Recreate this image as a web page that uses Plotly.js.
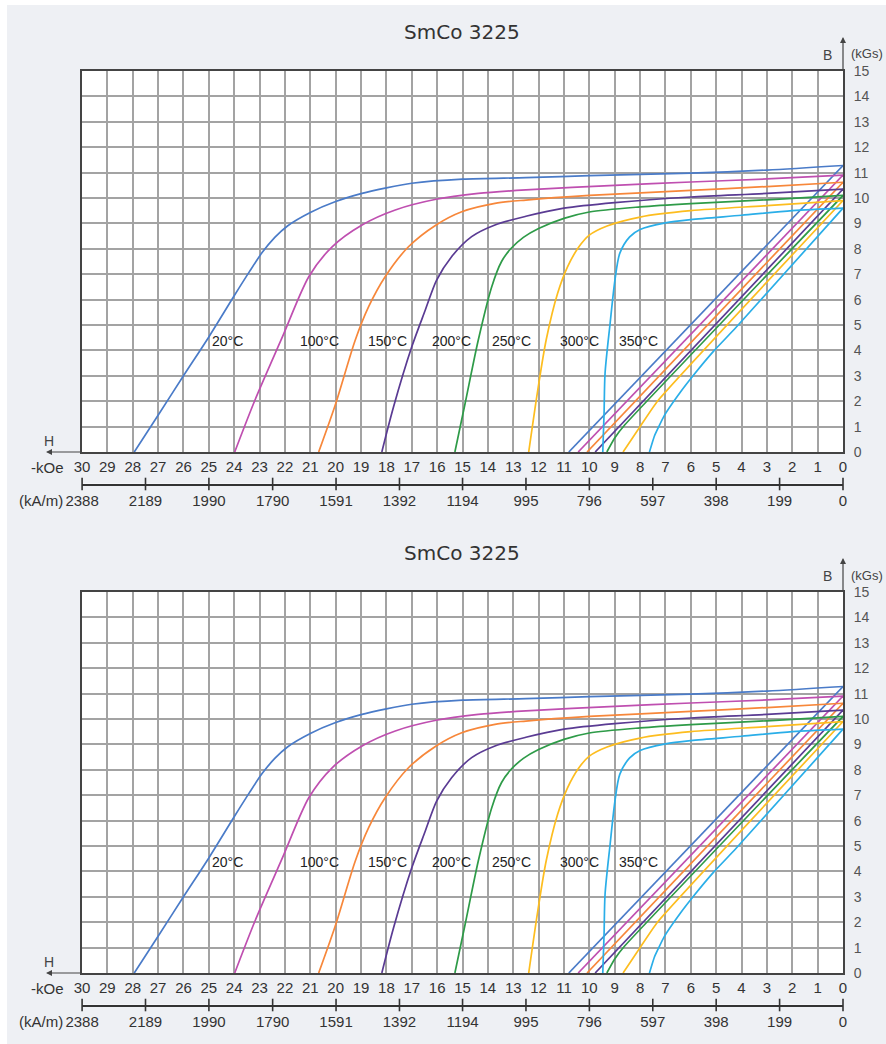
<!DOCTYPE html>
<html><head><meta charset="utf-8">
<script src="https://cdn.plot.ly/plotly-3.0.1.min.js"></script>
<style>html,body{margin:0;padding:0;background:#fff;}#chart{width:886px;height:1044px;}</style>
</head><body><div id="chart"></div>
<script>
// ---------- data ----------
const chartTitle = 'SmCo 3225';
const temps = ['20°C', '100°C', '150°C', '200°C', '250°C', '300°C', '350°C'];
const colors = ['#4a7bc8', '#bf4fb0', '#f7873a', '#5a3b93', '#2e9b48', '#fdbd1f', '#2aaee8'];

// intrinsic (curved) demagnetization curves: H in kOe (magnitude), B in kGs
const intrH20  = [27.94, 27.0, 26.0, 25.0, 24.0, 23.4, 22.9, 22.4, 21.9, 21.0, 20.0, 19.0, 18.0, 17.0, 15.0, 12.5, 10.0, 6.0, 3.0, 0];
const intrB20  = [0, 1.45, 3.0, 4.53, 6.15, 7.1, 7.85, 8.45, 8.9, 9.43, 9.86, 10.17, 10.4, 10.58, 10.74, 10.8, 10.88, 10.98, 11.1, 11.28];
const intrH100 = [23.98, 23.2, 22.1, 21.06, 20.14, 18.96, 17.65, 16.04, 14.38, 12.5, 9.0, 6.0, 3.0, 0];
const intrB100 = [0, 2.0, 4.53, 6.9, 8.08, 8.94, 9.53, 9.95, 10.18, 10.32, 10.5, 10.63, 10.75, 10.9];
const intrH150 = [20.67, 20.0, 19.23, 18.7, 18.05, 17.13, 16.04, 15.03, 13.72, 12.5, 10.0, 6.0, 3.0, 0];
const intrB150 = [0, 1.9, 4.4, 5.72, 6.9, 8.08, 8.94, 9.46, 9.79, 9.92, 10.1, 10.3, 10.45, 10.62];
const intrH200 = [18.18, 17.72, 17.0, 16.47, 16.02, 15.43, 14.64, 13.72, 12.5, 11.0, 9.0, 6.0, 3.0, 0];
const intrB200 = [0, 1.77, 4.14, 5.58, 6.77, 7.69, 8.48, 8.94, 9.28, 9.6, 9.82, 10.04, 10.18, 10.35];
const intrH250 = [15.3, 14.9, 14.38, 13.85, 13.46, 13.1, 12.6, 12.0, 11.0, 10.0, 8.0, 6.0, 3.0, 0];
const intrB250 = [0, 1.9, 4.4, 6.5, 7.5, 8.0, 8.45, 8.8, 9.2, 9.45, 9.65, 9.78, 9.93, 10.1];
const intrH300 = [12.39, 12.03, 11.7, 11.25, 10.86, 10.41, 10.0, 9.3, 8.0, 6.0, 3.0, 0];
const intrB300 = [0, 2.46, 4.42, 6.25, 7.29, 8.08, 8.54, 8.9, 9.25, 9.5, 9.7, 9.9];
const intrH350 = [9.47, 9.42, 9.38, 9.18, 8.99, 8.8, 8.41, 8.0, 7.0, 6.0, 4.0, 2.0, 0];
const intrB350 = [0, 1.5, 3.1, 5.07, 6.77, 7.82, 8.47, 8.76, 9.02, 9.15, 9.32, 9.5, 9.6];

// normal (straight) demagnetization lines
const normH20  = [10.81, 0];
const normB20  = [0, 11.28];
const normH100 = [10.44, 0];
const normB100 = [0, 10.9];
const normH150 = [10.09, 0];
const normB150 = [0, 10.62];
const normH200 = [9.77, 0];
const normB200 = [0, 10.35];
const normH250 = [9.31, 9.0, 8.6, 0];
const normB250 = [0, 0.55, 1.07, 10.1];
const normH300 = [8.67, 8.3, 8.0, 7.3, 0];
const normB300 = [0, 0.55, 1.0, 2.02, 9.9];
const normH350 = [7.63, 7.43, 7.04, 6.4, 5.88, 5.1, 4.22, 0];
const normB350 = [0, 0.64, 1.44, 2.37, 3.04, 3.97, 4.9, 9.6];

// axis ticks
const kOeTicks = [30,29,28,27,26,25,24,23,22,21,20,19,18,17,16,15,14,13,12,11,10,9,8,7,6,5,4,3,2,1,0];
const kAmTicks = [2388, 2189, 1990, 1790, 1591, 1392, 1194, 995, 796, 597, 398, 199, 0];
const bTicks = [0,1,2,3,4,5,6,7,8,9,10,11,12,13,14,15];

const intrH = [intrH20, intrH100, intrH150, intrH200, intrH250, intrH300, intrH350];
const intrB = [intrB20, intrB100, intrB150, intrB200, intrB250, intrB300, intrB350];
const normH = [normH20, normH100, normH150, normH200, normH250, normH300, normH350];
const normB = [normB20, normB100, normB150, normB200, normB250, normB300, normB350];
const labelH = [24.95, 21.5, 18.8, 16.3, 13.9, 11.25, 8.9]; // label anchor positions

// ---------- layout helpers ----------
const W = 886, HT = 1044;
const fx = px => px / W;
const fy = py => 1 - py / HT;
const PL = 82, PR = 843;
const panelOff = [0, 521];

const numFont = 'Liberation Sans, Arial, sans-serif';
const gridCol = '#a3a3a3';
const traces = [];
const layout = {
  width: W, height: HT,
  margin: {l: 0, r: 0, t: 0, b: 0},
  paper_bgcolor: '#eef0f4',
  plot_bgcolor: '#ffffff',
  showlegend: false,
  annotations: [],
  shapes: [
    {type: 'rect', xref: 'paper', yref: 'paper', x0: 0, x1: fx(7), y0: 0, y1: 1, fillcolor: '#ffffff', line: {width: 0}},
    {type: 'rect', xref: 'paper', yref: 'paper', x0: 0, x1: 1, y0: fy(5), y1: 1, fillcolor: '#ffffff', line: {width: 0}}
  ]
};

panelOff.forEach((off, p) => {
  const xn = p === 0 ? '' : '2';
  const kn = p === 0 ? '3' : '4';
  const xa = 'x' + xn, ya = 'y' + xn;

  layout['xaxis' + xn] = {
    domain: [fx(PL), fx(PR)], anchor: ya, range: [30, 0],
    tickmode: 'array', tickvals: kOeTicks, ticktext: kOeTicks.map(String),
    ticks: '', ticklabelstandoff: 0,
    tickfont: {family: numFont, size: 15, color: '#333'},
    showgrid: true, gridcolor: gridCol, gridwidth: 2,
    showline: true, linecolor: '#444', linewidth: 2, mirror: true,
    zeroline: false, fixedrange: true
  };
  layout['yaxis' + xn] = {
    domain: [fy(452 + off), fy(71 + off)], anchor: xa, side: 'right', range: [0, 15],
    tickmode: 'array', tickvals: bTicks, ticktext: bTicks.map(String),
    ticks: '', ticklabelstandoff: 6,
    tickfont: {family: numFont, size: 14, color: '#555'},
    showgrid: true, gridcolor: gridCol, gridwidth: 2,
    showline: true, linecolor: '#444', linewidth: 2, mirror: true,
    zeroline: false, fixedrange: true
  };
  // kA/m scale
  const lineY = 484 + off;
  layout['xaxis' + kn] = {
    domain: [fx(PL), fx(PR)], anchor: 'y' + kn, range: [2388.3, 0],
    tickmode: 'array', tickvals: kAmTicks, ticktext: kAmTicks.map(String),
    ticks: '', ticklabelstandoff: 2,
    tickfont: {family: numFont, size: 15, color: '#333'},
    showgrid: false, zeroline: false,
    showline: true, linecolor: '#333', linewidth: 1.6, mirror: false, fixedrange: true
  };
  layout['yaxis' + kn] = {
    domain: [fy(lineY) - 0.0004, fy(lineY) + 0.0004], anchor: 'x' + kn, range: [-1, 1],
    visible: false, fixedrange: true
  };
  traces.push({
    x: kAmTicks, y: kAmTicks.map(() => 0), xaxis: 'x' + kn, yaxis: 'y' + kn,
    mode: 'markers', cliponaxis: false, hoverinfo: 'skip',
    marker: {symbol: 'line-ns-open', size: 9, color: '#333', line: {width: 1.6, color: '#333'}}
  });

  temps.forEach((t, i) => {
    traces.push({
      x: intrH[i], y: intrB[i], xaxis: xa, yaxis: ya, mode: 'lines', name: t + ' J',
      line: {color: colors[i], width: 1.7, shape: 'spline', smoothing: 0.8}, hoverinfo: 'skip'
    });
    traces.push({
      x: normH[i], y: normB[i], xaxis: xa, yaxis: ya, mode: 'lines', name: t + ' B',
      line: {color: colors[i], width: 1.7, shape: 'spline', smoothing: 0.4}, hoverinfo: 'skip'
    });
    layout.annotations.push({
      xref: xa, yref: ya, x: labelH[i], y: 4.37, text: t, showarrow: false,
      xanchor: 'left', yanchor: 'middle',
      font: {family: numFont, size: 14, color: '#222'}
    });
  });

  const A = layout.annotations;
  A.push({xref: 'paper', yref: 'paper', x: fx(462), y: fy(32 + off), text: chartTitle, showarrow: false,
          xanchor: 'center', yanchor: 'middle', font: {family: 'DejaVu Sans, Verdana, sans-serif', size: 20, color: '#333'}});
  A.push({xref: 'paper', yref: 'paper', x: fx(47), y: fy(467 + off), text: '-kOe', showarrow: false,
          xanchor: 'center', yanchor: 'middle', font: {family: numFont, size: 15, color: '#333'}});
  A.push({xref: 'paper', yref: 'paper', x: fx(41), y: fy(500 + off), text: '(kA/m)', showarrow: false,
          xanchor: 'center', yanchor: 'middle', font: {family: numFont, size: 15, color: '#333'}});
  A.push({xref: 'paper', yref: 'paper', x: fx(49), y: fy(441 + off), text: 'H', showarrow: false,
          xanchor: 'center', yanchor: 'middle', font: {family: numFont, size: 14, color: '#444'}});
  A.push({xref: 'paper', yref: 'paper', x: fx(827), y: fy(55 + off), text: 'B', showarrow: false,
          xanchor: 'center', yanchor: 'middle', font: {family: numFont, size: 14, color: '#444'}});
  A.push({xref: 'paper', yref: 'paper', x: fx(867), y: fy(54 + off), text: '(kGs)', showarrow: false,
          xanchor: 'center', yanchor: 'middle', font: {family: numFont, size: 13, color: '#444'}});
  // arrows
  A.push({xref: 'paper', yref: 'paper', x: fx(46), y: fy(452 + off), ax: 36, ay: 0, text: '', showarrow: true,
          arrowhead: 2, arrowsize: 1, arrowwidth: 1.2, arrowcolor: '#444'});
  A.push({xref: 'paper', yref: 'paper', x: fx(PR), y: fy(37 + off), ax: 0, ay: 34, text: '', showarrow: true,
          arrowhead: 2, arrowsize: 1, arrowwidth: 1.2, arrowcolor: '#444'});
});

Plotly.newPlot('chart', traces, layout, {staticPlot: true, displayModeBar: false});
</script></body></html>
